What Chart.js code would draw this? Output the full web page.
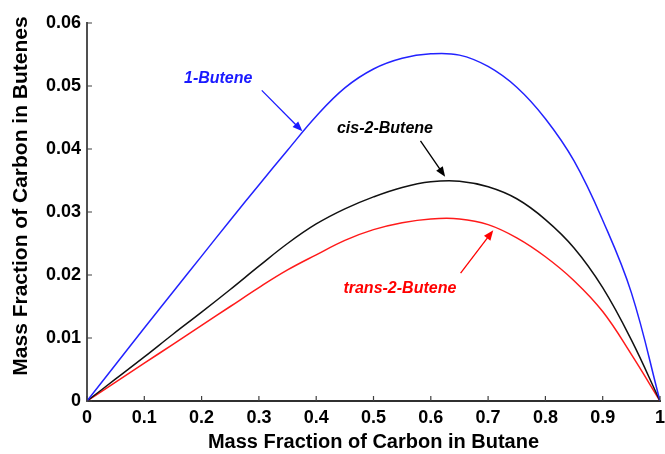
<!DOCTYPE html>
<html>
<head>
<meta charset="utf-8">
<script src="https://cdn.jsdelivr.net/npm/chart.js@4/dist/chart.umd.min.js"></script>
<style>
html,body{margin:0;padding:0;background:#ffffff;}
#wrap{width:665px;height:454px;}
</style>
</head>
<body>
<div id="wrap"><canvas id="c" width="665" height="454"></canvas></div>
<script>
// ---- data ----
const xValues      = [0, 0.05, 0.1, 0.15, 0.2, 0.25, 0.3, 0.35, 0.4, 0.45, 0.5, 0.55, 0.6, 0.65, 0.7, 0.75, 0.8, 0.85, 0.9, 0.95, 1];
const butene1      = [0, 0.0058, 0.0116, 0.0173, 0.0230, 0.0287, 0.0343, 0.0398, 0.0452, 0.0497, 0.0527, 0.0544, 0.0551, 0.0549, 0.0531, 0.0498, 0.0448, 0.0381, 0.0287, 0.0172, 0];
const cis2Butene   = [0, 0.0035, 0.0070, 0.0106, 0.0141, 0.0177, 0.0214, 0.0250, 0.0281, 0.0305, 0.0324, 0.0339, 0.0348, 0.0349, 0.0340, 0.0321, 0.0288, 0.0243, 0.0180, 0.0097, 0];
const trans2Butene = [0, 0.0030, 0.0060, 0.0090, 0.0120, 0.0150, 0.0180, 0.0208, 0.0232, 0.0255, 0.0272, 0.0283, 0.0289, 0.0289, 0.0280, 0.0259, 0.0229, 0.0191, 0.0142, 0.0074, 0];
const seriesNames  = ['1-Butene', 'cis-2-Butene', 'trans-2-Butene'];
const xTicks       = [0, 0.1, 0.2, 0.3, 0.4, 0.5, 0.6, 0.7, 0.8, 0.9, 1];
const xTickLabels  = ['0', '0.1', '0.2', '0.3', '0.4', '0.5', '0.6', '0.7', '0.8', '0.9', '1'];
const yTicks       = [0, 0.01, 0.02, 0.03, 0.04, 0.05, 0.06];
const yTickLabels  = ['0', '0.01', '0.02', '0.03', '0.04', '0.05', '0.06'];
const xTitle = 'Mass Fraction of Carbon in Butane';
const yTitle = 'Mass Fraction of Carbon in Butenes';

const toPoints = ys => xValues.map((x, i) => ({x: x, y: ys[i]}));

// annotation labels (in data coordinates)
const notes = [
  {text: seriesNames[0], color: '#1a1aff', lx: 0.229, ly: 0.0511, sx: 0.305, sy: 0.0493, tx: 0.376, ty: 0.0428},
  {text: seriesNames[1], color: '#000000', lx: 0.520, ly: 0.0432, sx: 0.582, sy: 0.0413, tx: 0.625, ty: 0.0356},
  {text: seriesNames[2], color: '#ff0000', lx: 0.546, ly: 0.0178, sx: 0.652, sy: 0.0203, tx: 0.709, ty: 0.0271}
];

const FONT = '"Liberation Sans", Arial, Helvetica, sans-serif';

const inwardTicks = {
  id: 'inwardTicks',
  afterDraw(chart) {
    const ctx = chart.ctx, xs = chart.scales.x, ys = chart.scales.y, a = chart.chartArea;
    ctx.save();
    ctx.strokeStyle = '#404040';
    ctx.lineWidth = 1.2;
    ctx.beginPath();
    xTicks.forEach(v => { const p = xs.getPixelForValue(v); ctx.moveTo(p, a.bottom); ctx.lineTo(p, a.bottom - 5); });
    yTicks.forEach(v => { const p = ys.getPixelForValue(v); ctx.moveTo(a.left, p); ctx.lineTo(a.left + 5, p); });
    ctx.stroke();
    // y axis title
    ctx.translate(21, (a.top + a.bottom) / 2 - 16);
    ctx.rotate(-Math.PI / 2);
    ctx.fillStyle = '#000';
    ctx.font = 'bold 21px ' + FONT;
    ctx.textAlign = 'center';
    ctx.textBaseline = 'middle';
    ctx.fillText(yTitle, 0, 0);
    ctx.restore();
  }
};

const annotations = {
  id: 'annotations',
  afterDatasetsDraw(chart) {
    const ctx = chart.ctx, xs = chart.scales.x, ys = chart.scales.y;
    ctx.save();
    notes.forEach(n => {
      ctx.fillStyle = n.color;
      ctx.strokeStyle = n.color;
      ctx.font = 'italic bold 16px ' + FONT;
      ctx.textAlign = 'center';
      ctx.textBaseline = 'middle';
      ctx.fillText(n.text, xs.getPixelForValue(n.lx), ys.getPixelForValue(n.ly));
      const x1 = xs.getPixelForValue(n.sx), y1 = ys.getPixelForValue(n.sy);
      const x2 = xs.getPixelForValue(n.tx), y2 = ys.getPixelForValue(n.ty);
      const ang = Math.atan2(y2 - y1, x2 - x1);
      const L = 10, W = 4;
      ctx.lineWidth = 1.3;
      ctx.beginPath();
      ctx.moveTo(x1, y1);
      ctx.lineTo(x2 - L * 0.8 * Math.cos(ang), y2 - L * 0.8 * Math.sin(ang));
      ctx.stroke();
      ctx.beginPath();
      ctx.moveTo(x2, y2);
      ctx.lineTo(x2 - L * Math.cos(ang) + W * Math.sin(ang), y2 - L * Math.sin(ang) - W * Math.cos(ang));
      ctx.lineTo(x2 - L * Math.cos(ang) - W * Math.sin(ang), y2 - L * Math.sin(ang) + W * Math.cos(ang));
      ctx.closePath();
      ctx.fill();
    });
    ctx.restore();
  }
};

const mk = (label, ys, color) => ({
  label: label, data: toPoints(ys), borderColor: color, backgroundColor: color,
  borderWidth: 1.5, pointRadius: 0, fill: false, tension: 0.4
});

new Chart(document.getElementById('c'), {
  type: 'line',
  data: {
    datasets: [
      mk(seriesNames[0], butene1, '#2222ff'),
      mk(seriesNames[1], cis2Butene, '#111111'),
      mk(seriesNames[2], trans2Butene, '#ff1a1a')
    ]
  },
  options: {
    responsive: false,
    animation: false,
    devicePixelRatio: 1,
    layout: {padding: {top: 23, right: 5, left: 0, bottom: 0}},
    plugins: {legend: {display: false}, tooltip: {enabled: false}},
    scales: {
      x: {
        type: 'linear', min: 0, max: 1,
        afterBuildTicks: s => { s.ticks = xTicks.map(v => ({value: v})); },
        afterFit: s => { s.height = 53; s.paddingLeft = 0; s.paddingRight = 0; },
        grid: {display: false, drawTicks: false},
        border: {display: true, color: '#303030', width: 2},
        ticks: {
          padding: 6, color: '#000', font: {family: FONT, size: 18, weight: 'bold'},
          maxRotation: 0, autoSkip: false,
          callback: (v) => { const i = xTicks.findIndex(t => Math.abs(t - v) < 1e-9); return i >= 0 ? xTickLabels[i] : ''; }
        },
        title: {display: true, text: xTitle, color: '#000', font: {family: FONT, size: 20, weight: 'bold'}, padding: {top: 5, bottom: 0}}
      },
      y: {
        type: 'linear', min: 0, max: 0.06,
        afterBuildTicks: s => { s.ticks = yTicks.map(v => ({value: v})); },
        afterFit: s => { s.width = 87; s.paddingTop = 0; s.paddingBottom = 0; },
        grid: {display: false, drawTicks: false},
        border: {display: true, color: '#505050', width: 2},
        ticks: {
          padding: 6, color: '#000', font: {family: FONT, size: 18, weight: 'bold'},
          autoSkip: false,
          callback: (v) => { const i = yTicks.findIndex(t => Math.abs(t - v) < 1e-9); return i >= 0 ? yTickLabels[i] : ''; }
        }
      }
    }
  },
  plugins: [inwardTicks, annotations]
});
</script>
</body>
</html>
